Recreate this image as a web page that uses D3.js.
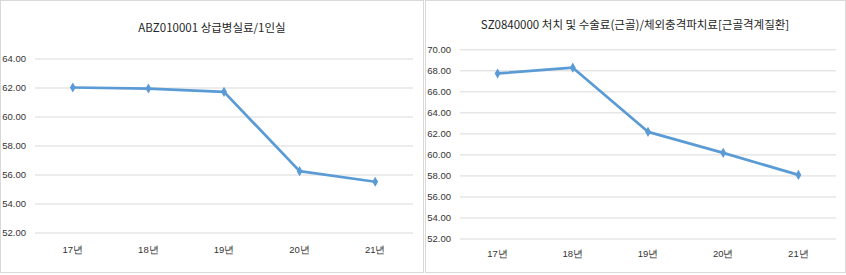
<!DOCTYPE html>
<meta charset="UTF-8">
<title>병실료 추이</title>
<style>
  body { margin: 0; background: #fff; }
  svg { display: block; font-family: "Noto Sans CJK KR", "Noto Sans", sans-serif; }
</style>
<svg width="846" height="275"></svg>
<script src="https://cdn.jsdelivr.net/npm/d3@7"></script>
<script>
var years = ["17년", "18년", "19년", "20년", "21년"];

var title1 = "ABZ010001 상급병실료/1인실";
var values1 = [62.0, 61.93, 61.7, 56.23, 55.5];
var ticks1 = [52, 54, 56, 58, 60, 62, 64];

var title2 = "SZ0840000 처치 및 수술료(근골)/체외충격파치료[근골격계질환]";
var values2 = [67.7, 68.25, 62.15, 60.15, 58.05];
var ticks2 = [52, 54, 56, 58, 60, 62, 64, 66, 68, 70];

var svg = d3.select("svg");

function drawChart(opt) {
  var g = svg.append("g").attr("transform", "translate(" + opt.left + ",0)");

  g.append("rect")
      .attr("x", 0.5).attr("y", 0.5)
      .attr("width", opt.w - 1).attr("height", opt.h - 1)
      .attr("fill", "#fff")
      .attr("stroke", "#d9d9d9");

  g.append("text")
      .attr("x", opt.titleX)
      .attr("y", opt.titleY)
      .attr("text-anchor", "middle")
      .attr("font-size", 11.5)
      .attr("fill", "#262626")
      .text(opt.title);

  var x = d3.scaleBand().domain(years).range([opt.x0, opt.x1]);
  var y = d3.scaleLinear().domain(d3.extent(opt.ticks)).range([opt.y0, opt.y1]);

  var yAxis = g.append("g")
      .attr("transform", "translate(" + opt.x0 + ",0)")
      .call(d3.axisLeft(y).tickValues(opt.ticks).tickFormat(d3.format(".2f"))
        .tickSize(-(opt.x1 - opt.x0)).tickPadding(8));
  yAxis.select(".domain").remove();
  yAxis.selectAll("line").attr("stroke", "#d9d9d9").attr("stroke-width", 1);
  yAxis.selectAll("text").attr("fill", "#333").attr("font-size", 9.5)
      .attr("font-family", "'Liberation Sans Narrow', 'Liberation Sans', sans-serif")
      .attr("x", -(opt.x0 - opt.labelRight));

  var xAxis = g.append("g")
      .attr("transform", "translate(0," + opt.xLabelY + ")")
      .call(d3.axisBottom(x).tickSize(0).tickPadding(0));
  xAxis.select(".domain").remove();
  xAxis.selectAll("text").attr("fill", "#333").attr("font-size", 9.5);

  var line = d3.line()
      .x(function(d, i) { return x(years[i]) + x.bandwidth() / 2; })
      .y(function(d) { return y(d); });

  g.append("path")
      .datum(opt.values)
      .attr("fill", "none")
      .attr("stroke", "#5b9bd5")
      .attr("stroke-width", 2.75)
      .attr("stroke-linejoin", "round")
      .attr("d", line);

  g.selectAll(".pt")
    .data(opt.values)
    .enter().append("path")
      .attr("class", "pt")
      .attr("transform", function(d, i) {
        return "translate(" + (x(years[i]) + x.bandwidth() / 2) + "," + y(d) + ")";
      })
      .attr("d", d3.symbol().type(d3.symbolDiamond).size(30))
      .attr("fill", "#5b9bd5");
}

drawChart({
  left: 0, w: 424, h: 273,
  title: title1, titleX: 212, titleY: 32,
  x0: 35, x1: 413, y0: 232.5, y1: 58.5,
  labelRight: 26, xLabelY: 246,
  ticks: ticks1, values: values1
});

drawChart({
  left: 425, w: 421, h: 273,
  title: title2, titleX: 210, titleY: 29,
  x0: 35, x1: 411, y0: 238.5, y1: 49.3,
  labelRight: 26, xLabelY: 250,
  ticks: ticks2, values: values2
});
</script>
